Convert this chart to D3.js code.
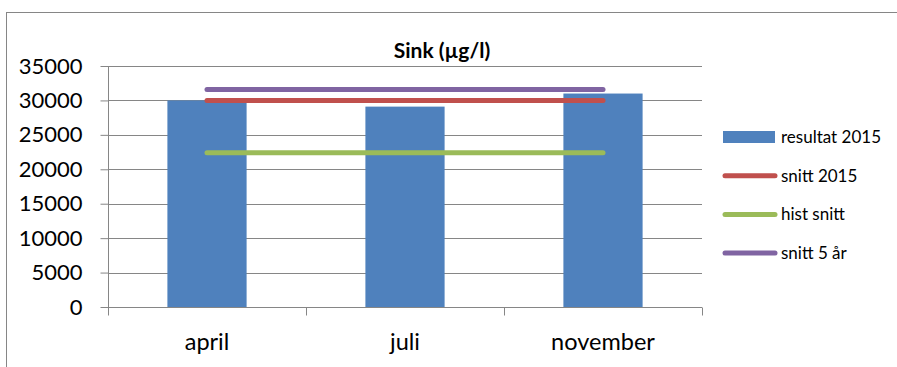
<!DOCTYPE html>
<html><head><meta charset="utf-8">
<script src="https://cdn.jsdelivr.net/npm/d3@7"></script>
<style>html,body{margin:0;padding:0;background:#fff;}svg{display:block;font-family:Lato,"Open Sans",sans-serif;}</style>
</head><body>
<svg id="c" width="897" height="367"></svg>
<script>
const categories = ["april", "juli", "november"];
const resultat2015 = [30000, 29100, 31000];
const snitt2015 = [30000, 30000, 30000];
const histSnitt = [22400, 22400, 22400];
const snitt5ar = [31600, 31600, 31600];
const yTicks = [0, 5000, 10000, 15000, 20000, 25000, 30000, 35000];
const title = "Sink (µg/l)";
const legendLabels = ["resultat 2015", "snitt 2015", "hist snitt", "snitt 5 år"];

const colors = {bar:"#4f81bd", red:"#c0504d", green:"#9bbb59", purple:"#8064a2", grid:"#868686"};

const svg = d3.select("#c");
// outer border (only top and left visible)
svg.append("rect").attr("x",6.5).attr("y",12.5).attr("width",1000).attr("height",1000)
  .attr("fill","none").attr("stroke","#868686").attr("stroke-width",1);

const pL=108, pR=702, pT=66, pB=307;
const x = d3.scaleBand().domain(categories).range([pL,pR]).paddingInner(0).paddingOuter(0);
const y = d3.scaleLinear().domain([0,35000]).range([pB,pT]);

// gridlines
svg.append("g").selectAll("line").data(yTicks.filter(d=>d>0)).join("line")
  .attr("x1",pL).attr("x2",pR).attr("y1",d=>Math.round(y(d))+0.5).attr("y2",d=>Math.round(y(d))+0.5)
  .attr("stroke",colors.grid).attr("stroke-width",1);

// bars
const bw = x.bandwidth()*0.4;
svg.append("g").selectAll("rect").data(resultat2015).join("rect")
  .attr("x",(d,i)=>x(categories[i])+x.bandwidth()/2-bw/2)
  .attr("y",d=>y(d)).attr("width",bw).attr("height",d=>y(0)-y(d))
  .attr("fill",colors.bar);

// y axis
const yAxis = d3.axisLeft(y).tickValues(yTicks).tickSize(8).tickPadding(18).tickFormat(d3.format("d"));
const gy = svg.append("g").attr("transform",`translate(${pL+0.5},0)`).call(yAxis);
gy.select(".domain").attr("stroke",colors.grid).attr("d",`M0,${pT}V${pB+8}`);
gy.selectAll(".tick line").attr("stroke",colors.grid);
gy.selectAll(".tick text").attr("font-size","22px").attr("fill","#000").attr("font-family","Lato");

// x axis
const gx = svg.append("g").attr("transform",`translate(0,${pB+0.5})`);
gx.append("line").attr("x1",pL).attr("x2",pR).attr("stroke",colors.grid);
const bounds = categories.map(c=>x(c)).concat([pR]);
gx.selectAll("line.t").data(bounds).join("line").attr("class","t")
  .attr("x1",d=>Math.round(d)+0.5).attr("x2",d=>Math.round(d)+0.5).attr("y1",0).attr("y2",8).attr("stroke",colors.grid);
gx.selectAll("text").data(categories).join("text")
  .attr("x",d=>x(d)+x.bandwidth()/2).attr("y",42).attr("text-anchor","middle")
  .attr("font-size","23.5px").attr("fill","#000").text(d=>d);

// lines
const line = d3.line().x((d,i)=>x(categories[i])+x.bandwidth()/2).y(d=>y(d));
[[snitt2015,colors.red],[histSnitt,colors.green],[snitt5ar,colors.purple]].forEach(([data,col])=>{
  svg.append("path").attr("d",line(data)).attr("fill","none").attr("stroke",col)
    .attr("stroke-width",5).attr("stroke-linecap","round");
});

// title
svg.append("text").attr("x",442).attr("y",58).attr("text-anchor","middle")
  .attr("font-size","21px").attr("font-weight","bold").attr("fill","#000").text(title);

// legend
const lg = svg.append("g");
const ly0 = 137, lstep = 38.7;
legendLabels.forEach((lab,i)=>{
  const yy = ly0 + i*lstep;
  if(i===0){
    lg.append("rect").attr("x",723).attr("y",yy-6).attr("width",52).attr("height",12).attr("fill",colors.bar);
  } else {
    const col = [null,colors.red,colors.green,colors.purple][i];
    lg.append("line").attr("x1",725).attr("x2",775).attr("y1",yy).attr("y2",yy)
      .attr("stroke",col).attr("stroke-width",5).attr("stroke-linecap","round");
  }
  lg.append("text").attr("x",781).attr("y",yy+6).attr("font-size","17px").attr("fill","#000").text(lab);
});
</script>
</body></html>
